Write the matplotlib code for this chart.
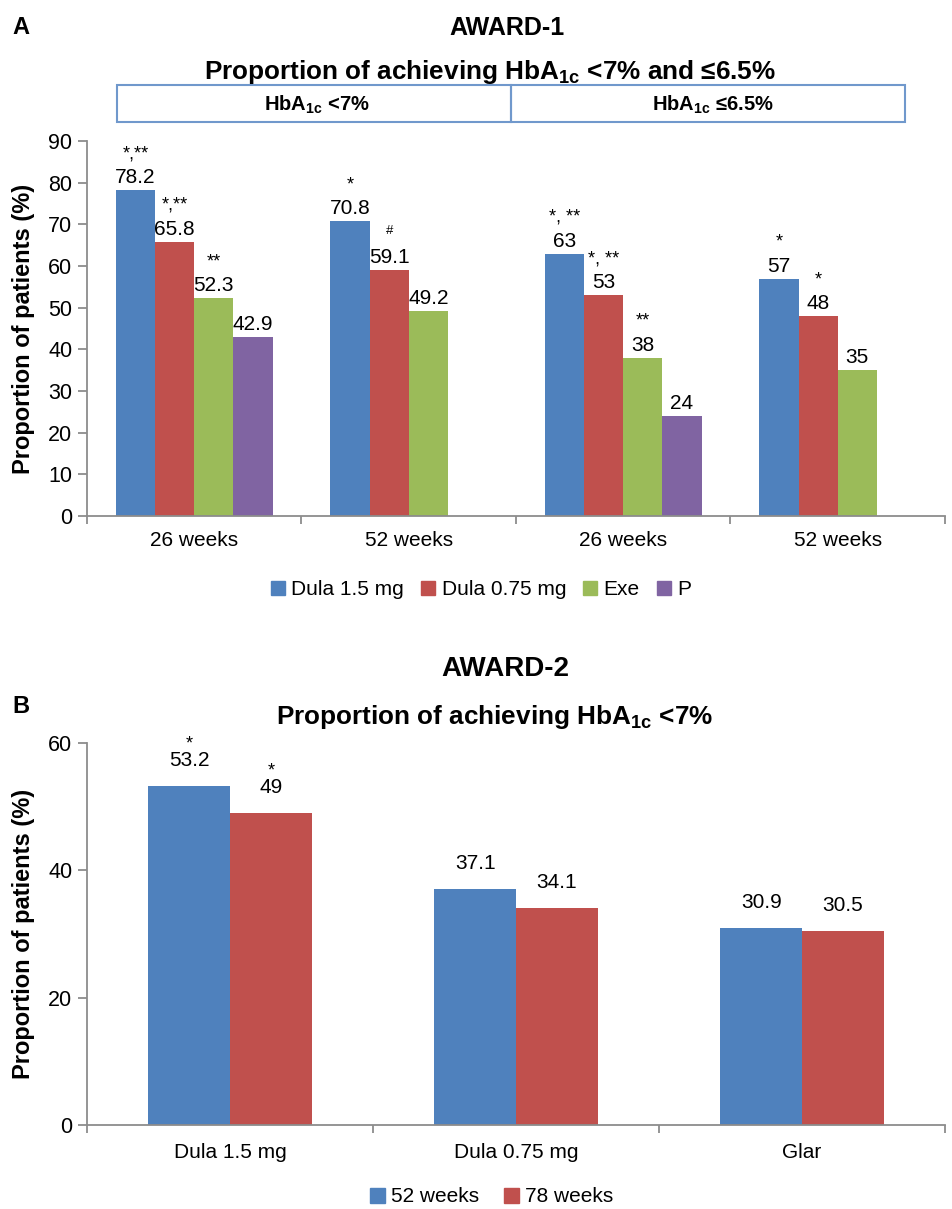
import numpy as np
import matplotlib
matplotlib.use("Agg")
from matplotlib import pyplot as plt
from matplotlib.patches import Rectangle, Patch

plt.rcParams['font.family'] = ['Liberation Sans', 'DejaVu Sans']
plt.rcParams['mathtext.fontset'] = 'custom'
plt.rcParams['mathtext.rm'] = 'Liberation Sans'
plt.rcParams['mathtext.bf'] = 'Liberation Sans:bold'

# ---- data, panel A (AWARD-1) ----
groups_a = ['26 weeks', '52 weeks', '26 weeks', '52 weeks']
dula15_a = [78.2, 70.8, 63, 57]
dula075_a = [65.8, 59.1, 53, 48]
exe_a = [52.3, 49.2, 38, 35]
placebo_a = [42.9, np.nan, 24, np.nan]
series_a = ['Dula 1.5 mg', 'Dula 0.75 mg', 'Exe', 'P']
stars_dula15_a = ['*,**', '*', '*, **', '*']
stars_dula075_a = ['*,**', '#', '*, **', '*']
stars_exe_a = ['**', '', '**', '']
stars_placebo_a = ['', '', '', '']

# ---- data, panel B (AWARD-2) ----
groups_b = ['Dula 1.5 mg', 'Dula 0.75 mg', 'Glar']
wk52_b = [53.2, 37.1, 30.9]
wk78_b = [49, 34.1, 30.5]
series_b = ['52 weeks', '78 weeks']
stars_wk52_b = ['*', '', '']
stars_wk78_b = ['*', '', '']

colors = ['#4F81BD', '#C0504D', '#9BBB59', '#8064A2']
axis_grey = '#8C8C8C'

W, H = 953, 1209
fig = plt.figure(figsize=(W / 100, H / 100), dpi=100)

def fx(x):
    return x / W

def fy(y):
    return 1 - y / H

def style_axis(ax, ngroups):
    for s in ['top', 'right']:
        ax.spines[s].set_visible(False)
    for s in ['left', 'bottom']:
        ax.spines[s].set_color(axis_grey)
        ax.spines[s].set_linewidth(1.3)
    ax.set_xticks(np.arange(ngroups))
    ax.set_xticks(np.arange(ngroups + 1) - 0.5, minor=True)
    ax.tick_params(axis='x', which='major', length=0, labelsize=15)
    ax.tick_params(axis='x', which='minor', length=6, width=1.3, color=axis_grey)
    ax.tick_params(axis='y', length=6.5, width=1.3, color=axis_grey, labelsize=15.5, pad=4)

def put_labels(ax, xs, vals, stars, val_off, star_off):
    for x, v, s in zip(xs, vals, stars):
        if np.isnan(v):
            continue
        ax.annotate(f'{v:g}', (x, v), xytext=(0, val_off), textcoords='offset points',
                    ha='center', va='baseline', fontsize=15)
        if s == '#':
            ax.annotate(s, (x, v), xytext=(0, val_off + 21), textcoords='offset points',
                        ha='center', va='baseline', fontsize=9.5)
        elif s:
            ax.annotate(s, (x, v), xytext=(0, val_off + star_off), textcoords='offset points',
                        ha='center', va='baseline', fontsize=13)

# ---------------- panel A ----------------
axA = fig.add_axes([fx(87), fy(516), fx(945 - 87), (516 - 141) / H])
xa = np.arange(len(groups_a))
wa = 40 / 219
vals_a = [dula15_a, dula075_a, exe_a, placebo_a]
stars_a = [stars_dula15_a, stars_dula075_a, stars_exe_a, stars_placebo_a]
for i, (vals, st) in enumerate(zip(vals_a, stars_a)):
    pos = xa + (i - 1.5) * wa
    axA.bar(pos, vals, wa, color=colors[i], linewidth=0)
    put_labels(axA, pos, np.array(vals, dtype=float), st, 5, 18)
axA.set_xlim(-0.5, -0.5 + (945 - 87) / 219)
axA.set_ylim(0, 90)
axA.set_yticks(np.arange(0, 91, 10))
style_axis(axA, len(groups_a))
axA.set_xticklabels(groups_a)
axA.tick_params(axis='x', which='major', pad=11)
axA.set_ylabel('Proportion of patients (%)', fontsize=17, fontweight='bold')
axA.yaxis.set_label_coords((35 - 87) / 858, 0.5)

# header boxes
for x0, x1 in [(117, 511), (511, 905)]:
    fig.patches.append(Rectangle((fx(x0), fy(122)), fx(x1 - x0), 37 / H,
                                 transform=fig.transFigure, fill=False,
                                 edgecolor='#7098CC', linewidth=1.5))
fig.text(fx(317), fy(111), r'HbA$_{\mathbf{1c}}$ <7%', ha='center', va='baseline',
         fontsize=14.5, fontweight='bold')
fig.text(fx(713), fy(111), r'HbA$_{\mathbf{1c}}$ ≤6.5%', ha='center', va='baseline',
         fontsize=14.5, fontweight='bold')

fig.text(fx(12), fy(34), 'A', ha='left', va='baseline', fontsize=17, fontweight='bold')
fig.text(fx(507), fy(35), 'AWARD-1', ha='center', va='baseline', fontsize=18, fontweight='bold')
fig.text(fx(490), fy(79), r'Proportion of achieving HbA$_{\mathbf{1c}}$ <7% and ≤6.5%',
         ha='center', va='baseline', fontsize=18.8, fontweight='bold')

fig.legend(handles=[Patch(color=c) for c in colors], labels=series_a,
           loc='center', bbox_to_anchor=(fx(481), fy(590)), ncol=4, frameon=False,
           fontsize=15, handlelength=0.7, handleheight=0.7, handletextpad=0.3,
           columnspacing=0.8)

# ---------------- panel B ----------------
axB = fig.add_axes([fx(87), fy(1125), fx(858), (1125 - 743) / H])
xb = np.arange(len(groups_b))
wb = 84 / 294
vals_b = [wk52_b, wk78_b]
stars_b = [stars_wk52_b, stars_wk78_b]
for i, (vals, st) in enumerate(zip(vals_b, stars_b)):
    pos = xb + (i - 0.5) * wb
    axB.bar(pos, vals, wb, color=colors[i], linewidth=0)
    put_labels(axB, pos, np.array(vals, dtype=float), st, 14.5, 12.5)
axB.set_xlim(-0.5, -0.5 + 858 / 294)
axB.set_ylim(0, 60)
axB.set_yticks([0, 20, 40, 60])
style_axis(axB, len(groups_b))
axB.set_xticklabels(groups_b)
axB.tick_params(axis='x', which='major', pad=13)
axB.set_ylabel('Proportion of patients (%)', fontsize=17, fontweight='bold')
axB.yaxis.set_label_coords((35 - 87) / 858, 0.5)

fig.text(fx(12), fy(713), 'B', ha='left', va='baseline', fontsize=17, fontweight='bold')
fig.text(fx(505), fy(676), 'AWARD-2', ha='center', va='baseline', fontsize=20, fontweight='bold')
fig.text(fx(495), fy(724), r'Proportion of achieving HbA$_{\mathbf{1c}}$ <7%',
         ha='center', va='baseline', fontsize=18.8, fontweight='bold')

fig.legend(handles=[Patch(color=c) for c in colors[:2]], labels=series_b,
           loc='center', bbox_to_anchor=(fx(492), fy(1197)), ncol=2, frameon=False,
           fontsize=15, handlelength=0.7, handleheight=0.7, handletextpad=0.3,
           columnspacing=1.2)

fig.savefig('out.png', dpi=100)
